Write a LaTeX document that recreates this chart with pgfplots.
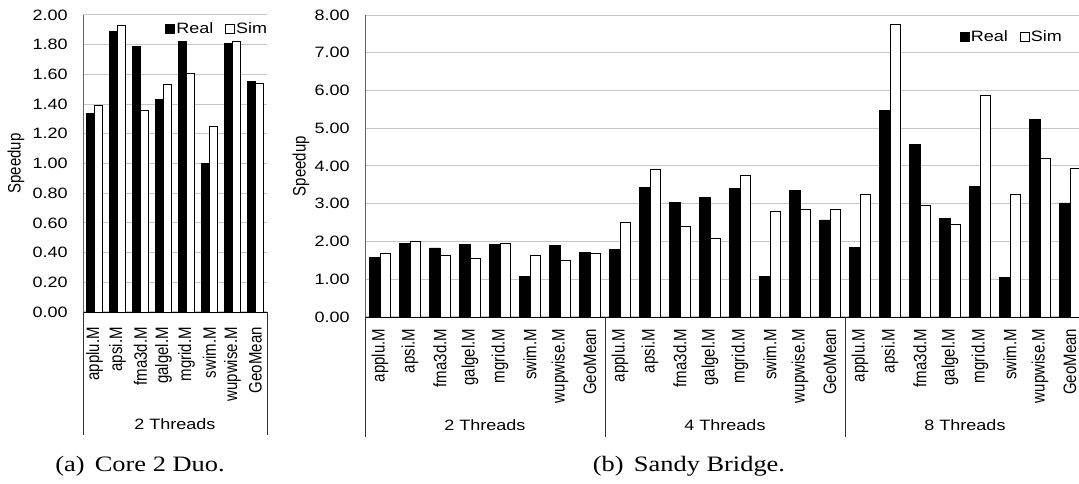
\documentclass[border=0pt]{standalone}
\usepackage{pgfplots}
\usepackage{pgfplotstable}
\pgfplotsset{compat=1.18}
\usepackage{fontspec}
\setmainfont{Liberation Sans}[FakeStretch=1.2]
\newfontfamily\rotfont{Liberation Sans}
\newfontfamily\capfont{Liberation Serif}[FakeStretch=1.2]
\newcommand\lblsize{\fontsize{11.25}{13}\selectfont}

\pgfplotstableread{
x real sim
0 1.34 1.39
1 1.89 1.93
2 1.79 1.36
3 1.43 1.53
4 1.82 1.61
5 1.00 1.25
6 1.81 1.82
7 1.55 1.54
}\coretwo

\pgfplotstableread{
x real sim
0 1.58 1.69
1 1.94 1.99
2 1.83 1.64
3 1.91 1.54
4 1.93 1.95
5 1.08 1.62
6 1.90 1.49
7 1.70 1.69
8 1.80 2.51
9 3.42 3.92
10 3.04 2.40
11 3.17 2.09
12 3.40 3.74
13 1.07 2.81
14 3.36 2.86
15 2.57 2.84
16 1.84 3.26
17 5.46 7.75
18 4.56 2.96
19 2.62 2.46
20 3.46 5.87
21 1.04 3.26
22 5.23 4.20
23 3.02 3.94
}\sandy

\pgfplotsset{
  mystyle/.style={
    scale only axis,
    ybar=0pt,
    ymin=0,
    axis x line*=bottom,
    axis y line*=left,
    x axis line style={black,-},
    y axis line style={black!60,-},
    ymajorgrids,
    grid style={black!22, line width=0.75pt},
    xtick style={draw=none},
    ytick style={draw=none},
    tick label style={font=\lblsize},
    /pgf/number format/assume math mode=true,
    yticklabel style={/pgf/number format/fixed, /pgf/number format/fixed zerofill, /pgf/number format/precision=2},
    yticklabel style={xshift=-8pt},
    xticklabel style={rotate=90, yscale=1.2, anchor=east, font=\rotfont\lblsize},
    every axis y label/.style={rotate=90, yscale=1.2, anchor=center, font=\rotfont\lblsize},
    legend style={draw=none, fill=none, legend columns=2, font=\lblsize,
      inner sep=0pt, nodes={inner xsep=1pt},
      /tikz/every even column/.append style={column sep=8pt}},
    legend image code/.code={\draw[#1, line width=0.6pt] (0pt,-3.3pt) rectangle (6.6pt,3.3pt);},
    realbar/.style={fill=black, draw=black, line width=0.6pt},
    simbar/.style={fill=white, draw=black, line width=0.6pt},
  }
}

\begin{document}
\begin{tikzpicture}[x=0.75pt, y=0.75pt]
\begin{axis}[mystyle,
  at={(62.25pt,129pt)}, anchor=south west,
  width=138pt, height=222.75pt,
  xmin=-0.5, xmax=7.5, ymax=2,
  ytick={0,0.2,0.4,0.6,0.8,1.0,1.2,1.4,1.6,1.8,2.0},
  bar width=0.36,
  xtick={0,...,7},
  xticklabels={applu.M,apsi.M,fma3d.M,galgel.M,mgrid.M,swim.M,wupwise.M,GeoMean},
  xticklabel style={inner sep=7pt},
  ylabel={Speedup},
  ylabel style={at={(axis description cs:-0.364,0.5)}},
  legend style={at={(axis description cs:1.01,0.953)}, anchor=east},
]
\addplot[realbar] table[x=x, y=real] {\coretwo};
\addplot[simbar] table[x=x, y=sim] {\coretwo};
\legend{Real, Sim}
\end{axis}

\begin{axis}[mystyle,
  at={(273.75pt,125.25pt)}, anchor=south west,
  width=540pt, height=226.5pt,
  xmin=-0.5, xmax=23.5, ymax=8,
  ytick={0,1,...,8},
  bar width=0.345,
  xtick={0,...,23},
  xticklabels={applu.M,apsi.M,fma3d.M,galgel.M,mgrid.M,swim.M,wupwise.M,GeoMean,
               applu.M,apsi.M,fma3d.M,galgel.M,mgrid.M,swim.M,wupwise.M,GeoMean,
               applu.M,apsi.M,fma3d.M,galgel.M,mgrid.M,swim.M,wupwise.M,GeoMean},
  xticklabel style={inner sep=4.5pt},
  ylabel={Speedup},
  ylabel style={at={(axis description cs:-0.089,0.5)}},
  legend style={at={(axis description cs:0.97,0.927)}, anchor=east},
]
\addplot[realbar] table[x=x, y=real] {\sandy};
\addplot[simbar] table[x=x, y=sim] {\sandy};
\legend{Real, Sim}
\end{axis}

% category group boxes
\draw[black!80, line width=0.75pt] (83,172) -- (83,49);
\draw[black!80, line width=0.75pt] (267,172) -- (267,49);
\foreach \xx in {365,605,845,1085} {
  \draw[black!80, line width=0.75pt] (\xx,167) -- (\xx,47);
}
\node[font=\lblsize] at (175,60) {2 Threads};
\node[font=\lblsize] at (485,59) {2 Threads};
\node[font=\lblsize] at (725,59) {4 Threads};
\node[font=\lblsize] at (965,59) {8 Threads};

% captions
\node[font=\capfont\fontsize{16.5}{18}\selectfont] at (140,18) {(a)\, Core 2 Duo.};
\node[font=\capfont\fontsize{16.5}{18}\selectfont] at (689,18) {(b)\, Sandy Bridge.};

\pgfresetboundingbox
\useasboundingbox (0,0) rectangle (1079,484);
\end{tikzpicture}
\end{document}
